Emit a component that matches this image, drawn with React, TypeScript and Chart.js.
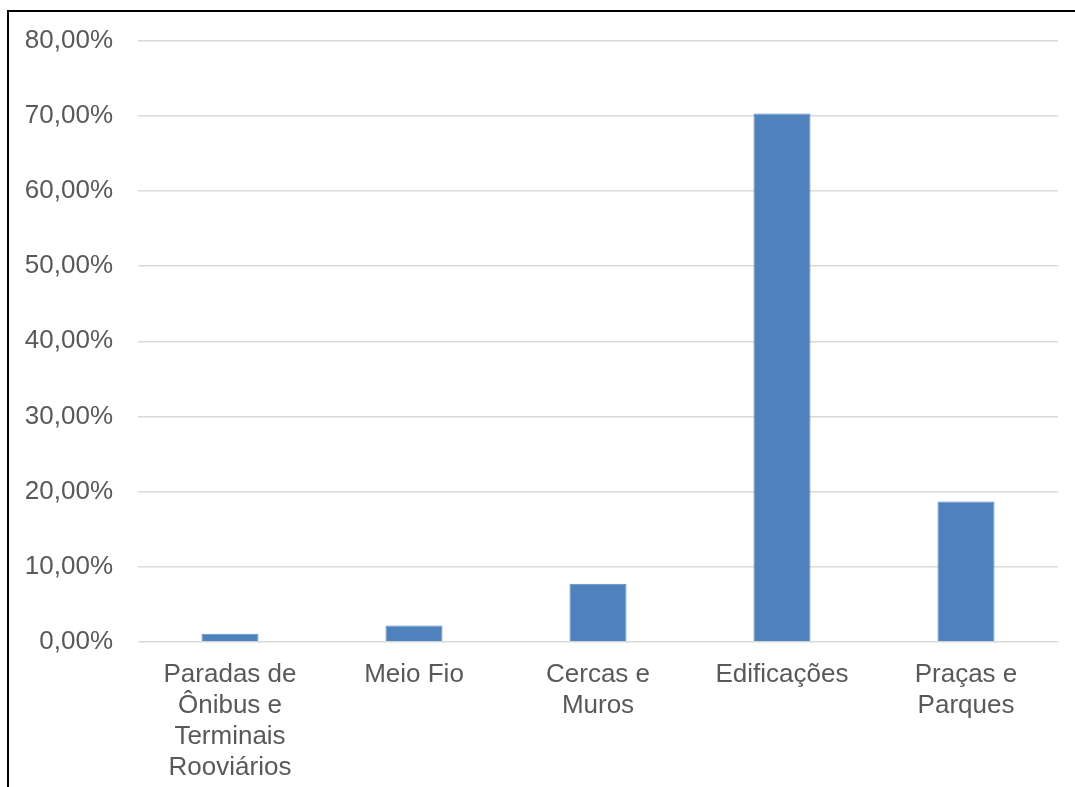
import React, { useEffect, useRef } from "react";
import { Chart, registerables } from "chart.js";

Chart.register(...registerables);

const categories: (string | string[])[] = [
  ["Paradas de", "Ônibus e", "Terminais", "Rooviários"],
  "Meio Fio",
  ["Cercas e", "Muros"],
  "Edificações",
  ["Praças e", "Parques"],
];

const shares: number[] = [1.1, 2.2, 7.75, 70.3, 18.7];

const yTicks = { min: 0, max: 80, step: 10 };

const formatPct = (v: number) => v.toFixed(2).replace(".", ",") + "%";

const FONT = "'Liberation Sans', Arial, sans-serif";
const TEXT = "#595959";

export default function App() {
  const ref = useRef<HTMLCanvasElement | null>(null);

  useEffect(() => {
    if (!ref.current) return;
    const chart = new Chart(ref.current, {
      type: "bar",
      data: {
        labels: categories,
        datasets: [
          {
            data: shares,
            backgroundColor: "#4f81bd",
            borderColor: "#5b8cc6",
            borderWidth: 1,
            categoryPercentage: 1,
            barPercentage: 0.31,
          },
        ],
      },
      options: {
        animation: false,
        responsive: false,
        maintainAspectRatio: false,
        layout: { padding: { top: 26, right: 17, left: 0, bottom: 0 } },
        plugins: { legend: { display: false }, tooltip: { enabled: false } },
        scales: {
          x: {
            grid: { display: false },
            border: { display: false },
            ticks: {
              color: TEXT,
              font: { family: FONT, size: 26, lineHeight: 1.2 },
              maxRotation: 0,
              autoSkip: false,
              padding: 9,
            },
            afterFit: (s: any) => {
              s.height = 145;
            },
          },
          y: {
            min: yTicks.min,
            max: yTicks.max,
            border: { display: false },
            grid: { color: "#d9d9d9", lineWidth: 1.5, drawTicks: false },
            ticks: {
              stepSize: yTicks.step,
              color: TEXT,
              font: { family: FONT, size: 26 },
              padding: 25,
              callback: (v: any) => formatPct(Number(v)),
            },
            afterFit: (s: any) => {
              s.width = 138;
            },
          },
        },
      },
    });
    return () => chart.destroy();
  }, []);

  return (
    <div
      style={{
        position: "absolute",
        left: 0,
        top: 0,
        width: 1075,
        height: 787,
        overflow: "hidden",
        background: "#fff",
      }}
    >
      <canvas
        ref={ref}
        width={1075}
        height={787}
        style={{ position: "absolute", left: 0, top: 0, width: 1075, height: 787 }}
      />
      <div
        style={{
          position: "absolute",
          left: 7,
          top: 10,
          width: 1100,
          height: 800,
          borderLeft: "2px solid #000",
          borderTop: "2px solid #000",
          pointerEvents: "none",
        }}
      />
    </div>
  );
}
